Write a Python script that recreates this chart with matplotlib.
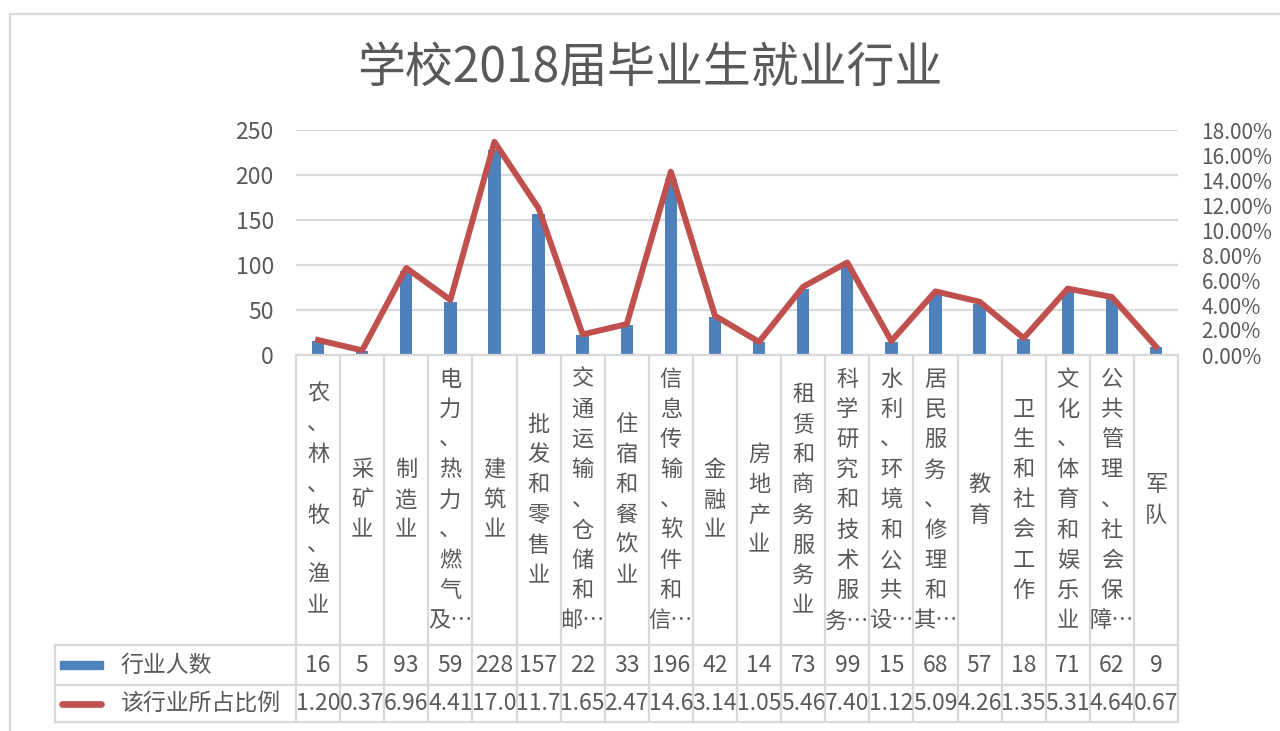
import matplotlib
matplotlib.use("Agg")
from matplotlib import pyplot as plt
from matplotlib.lines import Line2D
import numpy as np

plt.rcParams['font.family'] = ['Noto Sans CJK SC', 'DejaVu Sans']

TITLE = "学校2018届毕业生就业行业"
categories = ["农、林、牧、渔业", "采矿业", "制造业", "电力、热力、燃气及…", "建筑业",
              "批发和零售业", "交通运输、仓储和邮…", "住宿和餐饮业", "信息传输、软件和信…",
              "金融业", "房地产业", "租赁和商务服务业", "科学研究和技术服务…",
              "水利、环境和公共设…", "居民服务、修理和其…", "教育", "卫生和社会工作",
              "文化、体育和娱乐业", "公共管理、社会保障…", "军队"]
counts = [16, 5, 93, 59, 228, 157, 22, 33, 196, 42, 14, 73, 99, 15, 68, 57, 18, 71, 62, 9]
percents = [1.20, 0.37, 6.96, 4.41, 17.05, 11.74, 1.65, 2.47, 14.66, 3.14, 1.05, 5.46,
            7.40, 1.12, 5.09, 4.26, 1.35, 5.31, 4.64, 0.67]
series_names = ["行业人数", "该行业所占比例"]
left_ticks = [0, 50, 100, 150, 200, 250]
right_ticks = [0, 2, 4, 6, 8, 10, 12, 14, 16, 18]

BLUE = '#4F81BD'
RED = '#C0504D'
GRID = '#D9D9D9'
TXT = '#595959'

W, H = 1280, 731
fig = plt.figure(figsize=(W / 100, H / 100), dpi=100)

# plot area in pixels
PL, PR, PT, PB = 296, 1178, 130, 355
TL, TB = 55, 722
ROW1, ROW2 = 645, 685

ax = fig.add_axes([PL / W, 1 - PB / H, (PR - PL) / W, (PB - PT) / H])
n = len(categories)
x = np.arange(n)
ax.bar(x, counts, width=0.28, color=BLUE, zorder=2)
ax.set_xlim(-0.5, n - 0.5)
ax.set_ylim(0, 250)
ax.set_yticks(left_ticks)
ax.yaxis.grid(True, color=GRID, lw=1.6, zorder=0)
ax.set_axisbelow(True)
ax.set_xticks([])
for s in ax.spines.values():
    s.set_visible(False)
ax.tick_params(axis='y', length=0, pad=16, labelsize=16.5, labelcolor=TXT)

ax2 = ax.twinx()
ax2.plot(x, np.array(percents) / 100, color=RED, lw=4.3, solid_joinstyle='round', zorder=3)
ax2.set_ylim(0, 0.18)
ax2.set_yticks([t / 100 for t in right_ticks])
ax2.set_yticklabels([f"{t:.2f}%" for t in right_ticks])
for s in ax2.spines.values():
    s.set_visible(False)
ax2.tick_params(axis='y', length=0, pad=17, labelsize=15, labelcolor=TXT)

# data table under the chart
col_w = (PR - PL) / n
tab = fig.add_axes([TL / W, 1 - TB / H, (PR - TL) / W, (TB - PB) / H])
tab.set_xlim(-0.5 - (PL - TL) / col_w, n - 0.5)
tab.set_ylim(TB - PB, 0)
tab.axis('off')
r1, r2, r3 = ROW1 - PB, ROW2 - PB, TB - PB
lx = -0.5 - (PL - TL) / col_w

for i in range(n + 1):
    tab.plot([i - 0.5, i - 0.5], [0, r3], color=GRID, lw=1.6, clip_on=False)
tab.plot([lx, lx], [r1, r3], color=GRID, lw=1.6, clip_on=False)
tab.plot([-0.5, n - 0.5], [0, 0], color=GRID, lw=1.6, clip_on=False)
for yy in (r1, r2, r3):
    tab.plot([lx, n - 0.5], [yy, yy], color=GRID, lw=1.6, clip_on=False)


def vertical(name):
    chars = list(name.rstrip('…'))
    if name.endswith('…'):
        chars[-1] += '…'
    return '\n'.join(chars)


for i, name in enumerate(categories):
    tab.text(i, r1 / 2, vertical(name), ha='center', va='center', fontsize=16,
             color=TXT, linespacing=1.4)
    tab.text(i, (r1 + r2) / 2, str(counts[i]), ha='center', va='center', fontsize=16.5, color=TXT)
    tab.text(i, (r2 + r3) / 2, f"{percents[i]:.2f}"[:4], ha='center', va='center',
             fontsize=16.5, color=TXT)

kx0 = lx + 5 / col_w
kx1 = lx + 48 / col_w
tab.add_patch(plt.Rectangle((kx0, (r1 + r2) / 2 - 4), kx1 - kx0, 8, color=BLUE, clip_on=False))
tab.plot([kx0 + 0.05, kx1 - 0.05], [(r2 + r3) / 2] * 2, color=RED, lw=4.8,
         solid_capstyle='round', clip_on=False)
tab.text(kx1 + 0.4, (r1 + r2) / 2, series_names[0], ha='left', va='center', fontsize=16.5, color=TXT)
tab.text(kx1 + 0.4, (r2 + r3) / 2, series_names[1], ha='left', va='center', fontsize=16.5, color=TXT)

fig.text(650 / W, 1 - 68 / H, TITLE, ha='center', va='center', fontsize=34.5, color=TXT)

# outer chart frame
fig.add_artist(Line2D([10 / W, 1], [1 - 14 / H, 1 - 14 / H], transform=fig.transFigure,
                      color=GRID, lw=1.6))
fig.add_artist(Line2D([10 / W, 10 / W], [1 - 14 / H, 0], transform=fig.transFigure,
                      color=GRID, lw=1.6))

fig.savefig("out.png", dpi=100)
